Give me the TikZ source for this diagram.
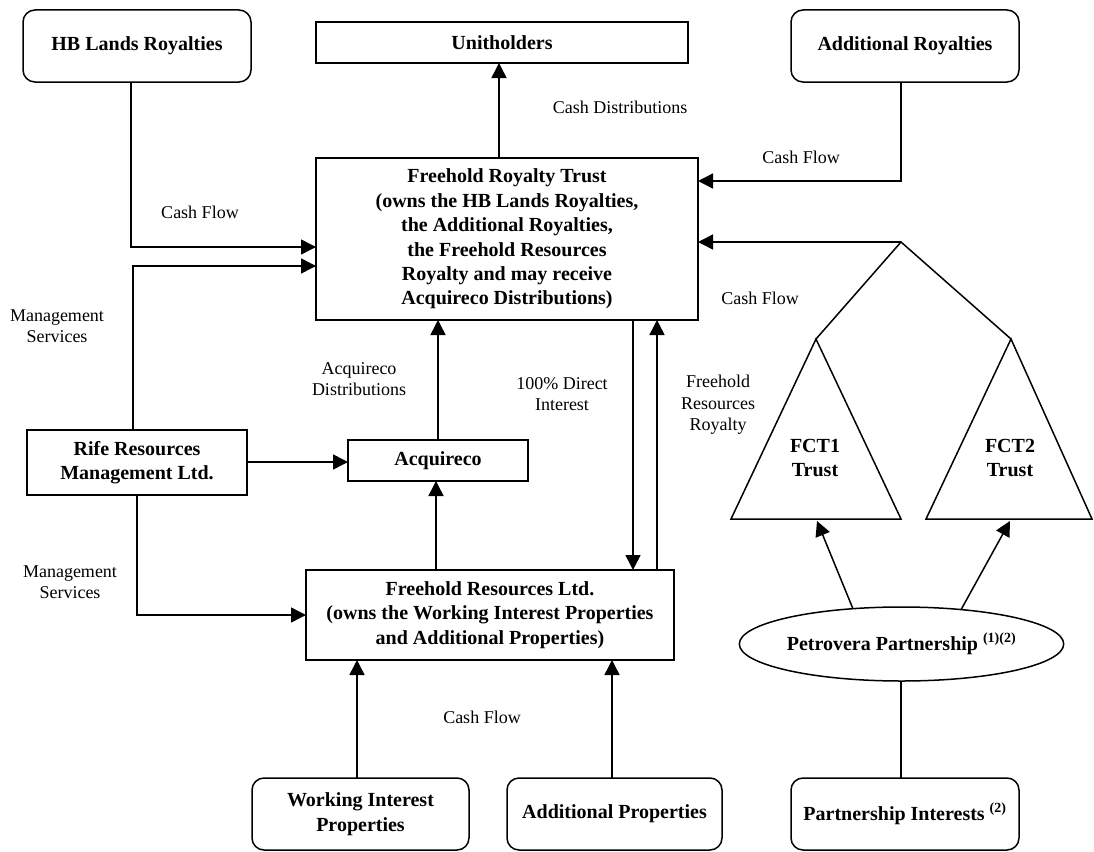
\documentclass[tikz,border=0pt]{standalone}
\usepackage{fontspec}
\setmainfont{Liberation Serif}
\usetikzlibrary{arrows.meta,shapes.geometric}
\begin{document}
\begin{tikzpicture}[x=1pt,y=-1pt,
  every node/.style={inner sep=0pt,outer sep=0pt},
  box/.style={draw,line width=1.5pt,align=center,font=\bfseries\fontsize{20}{24.4}\selectfont},
  rbox/.style={box,rounded corners=12pt},
  lbl/.style={align=center,font=\fontsize{18}{21.5}\selectfont},
  tri/.style={align=center,font=\bfseries\fontsize{20}{24.4}\selectfont},
  ln/.style={line width=1.5pt},
  arr/.style={ln,-{Triangle[length=15pt,width=15pt]}}]
\useasboundingbox (0,0) rectangle (1094,851);
% nodes
\node[rbox,minimum width=228pt,minimum height=72pt] (hb) at (137,46) {HB Lands Royalties};
\node[box,minimum width=372pt,minimum height=41pt] (unit) at (502,42.5) {Unitholders};
\node[rbox,minimum width=228pt,minimum height=72pt] (addroy) at (905,46) {Additional Royalties};
\node[box,minimum width=382pt,minimum height=162pt] (trust) at (507,239) {Freehold Royalty Trust\\(owns the HB Lands Royalties,\\the Additional Royalties,\\the Freehold Resources\\Royalty and may receive\\Acquireco Distributions)};
\node[box,minimum width=220pt,minimum height=65pt] (rife) at (137,462.5) {Rife Resources\\Management Ltd.};
\node[box,minimum width=180pt,minimum height=41pt] (acq) at (438,460.5) {Acquireco};
\node[box,minimum width=368pt,minimum height=90pt] (fr) at (490,615) {Freehold Resources Ltd.\\(owns the Working Interest Properties\\and Additional Properties)};
\node[rbox,minimum width=217pt,minimum height=72pt] (wip) at (360.5,814) {Working Interest\\Properties};
\node[rbox,minimum width=215pt,minimum height=72pt] (ap) at (614.5,814) {Additional Properties};
\node[rbox,minimum width=228pt,minimum height=72pt] (pi) at (905,814) {Partnership Interests \textsuperscript{(2)}};
\node[box,ellipse,minimum width=317pt,minimum height=74pt] (pp) at (901.5,644) {Petrovera Partnership \textsuperscript{(1)(2)}};
% triangles
\coordinate (t1a) at (816,339);
\coordinate (t1l) at (731,519);
\coordinate (t1r) at (901,519);
\coordinate (t2a) at (1011,339);
\coordinate (t2l) at (926,519);
\coordinate (t2r) at (1092,519);
\coordinate (top) at (901,242);
\draw[ln,line join=miter] (t1a) -- (t1l) -- (t1r) -- cycle;
\draw[ln,line join=miter] (t2a) -- (t2l) -- (t2r) -- cycle;
\node[tri] (fct1) at (815,458) {FCT1\\Trust};
\node[tri] (fct2) at (1010,458) {FCT2\\Trust};
% helper coordinates
\coordinate (x499) at (499,0);
\coordinate (x131) at (131,0);
\coordinate (x133) at (133,0);
\coordinate (x901) at (901,0);
\coordinate (x438) at (438,0);
\coordinate (x436) at (436,0);
\coordinate (x633) at (633,0);
\coordinate (x657) at (657,0);
\coordinate (x357) at (357,0);
\coordinate (x612) at (612,0);
\coordinate (y247) at (0,247);
\coordinate (y266) at (0,266);
\coordinate (y181) at (0,181);
\coordinate (y462) at (0,462);
\coordinate (f1) at (817,521);
\coordinate (f2) at (1010,521);
% connectors
\draw[arr] (trust.north -| x499) -- (unit.south -| x499);
\draw[arr] (hb.south -| x131) |- (trust.west |- y247);
\draw[arr] (rife.north -| x133) |- (trust.west |- y266);
\draw[arr] (addroy.south -| x901) |- (trust.east |- y181);
\draw[ln] (t1a) -- (top) -- (t2a);
\draw[arr] (top) -- (trust.east |- top);
\draw[arr] (rife.east |- y462) -- (acq.west |- y462);
\draw[arr] (acq.north -| x438) -- (trust.south -| x438);
\draw[arr] (fr.north -| x436) -- (acq.south -| x436);
\draw[arr] (trust.south -| x633) -- (fr.north -| x633);
\draw[arr] (fr.north -| x657) -- (trust.south -| x657);
\draw[arr] (rife.south) |- (fr.west);
\draw[arr] (wip.north -| x357) -- (fr.south -| x357);
\draw[arr] (ap.north -| x612) -- (fr.south -| x612);
\draw[ln] (pi.north -| x901) -- (pp.south -| x901);
\draw[arr] (pp.144) -- (f1);
\draw[arr] (pp.30) -- (f2);
% labels
\node[lbl] (l1) at (620,107) {Cash Distributions};
\node[lbl] (l2) at (200,212) {Cash Flow};
\node[lbl] (l3) at (57,326) {Management\\Services};
\node[lbl] (l4) at (801,157) {Cash Flow};
\node[lbl] (l5) at (760,298) {Cash Flow};
\node[lbl] (l6) at (359,379) {Acquireco\\Distributions};
\node[lbl] (l7) at (562,394) {100\% Direct\\Interest};
\node[lbl] (l8) at (718,405) {Freehold\\Resources\\Royalty};
\node[lbl] (l9) at (70,582) {Management\\Services};
\node[lbl] (l10) at (482,717) {Cash Flow};
\end{tikzpicture}
\end{document}
